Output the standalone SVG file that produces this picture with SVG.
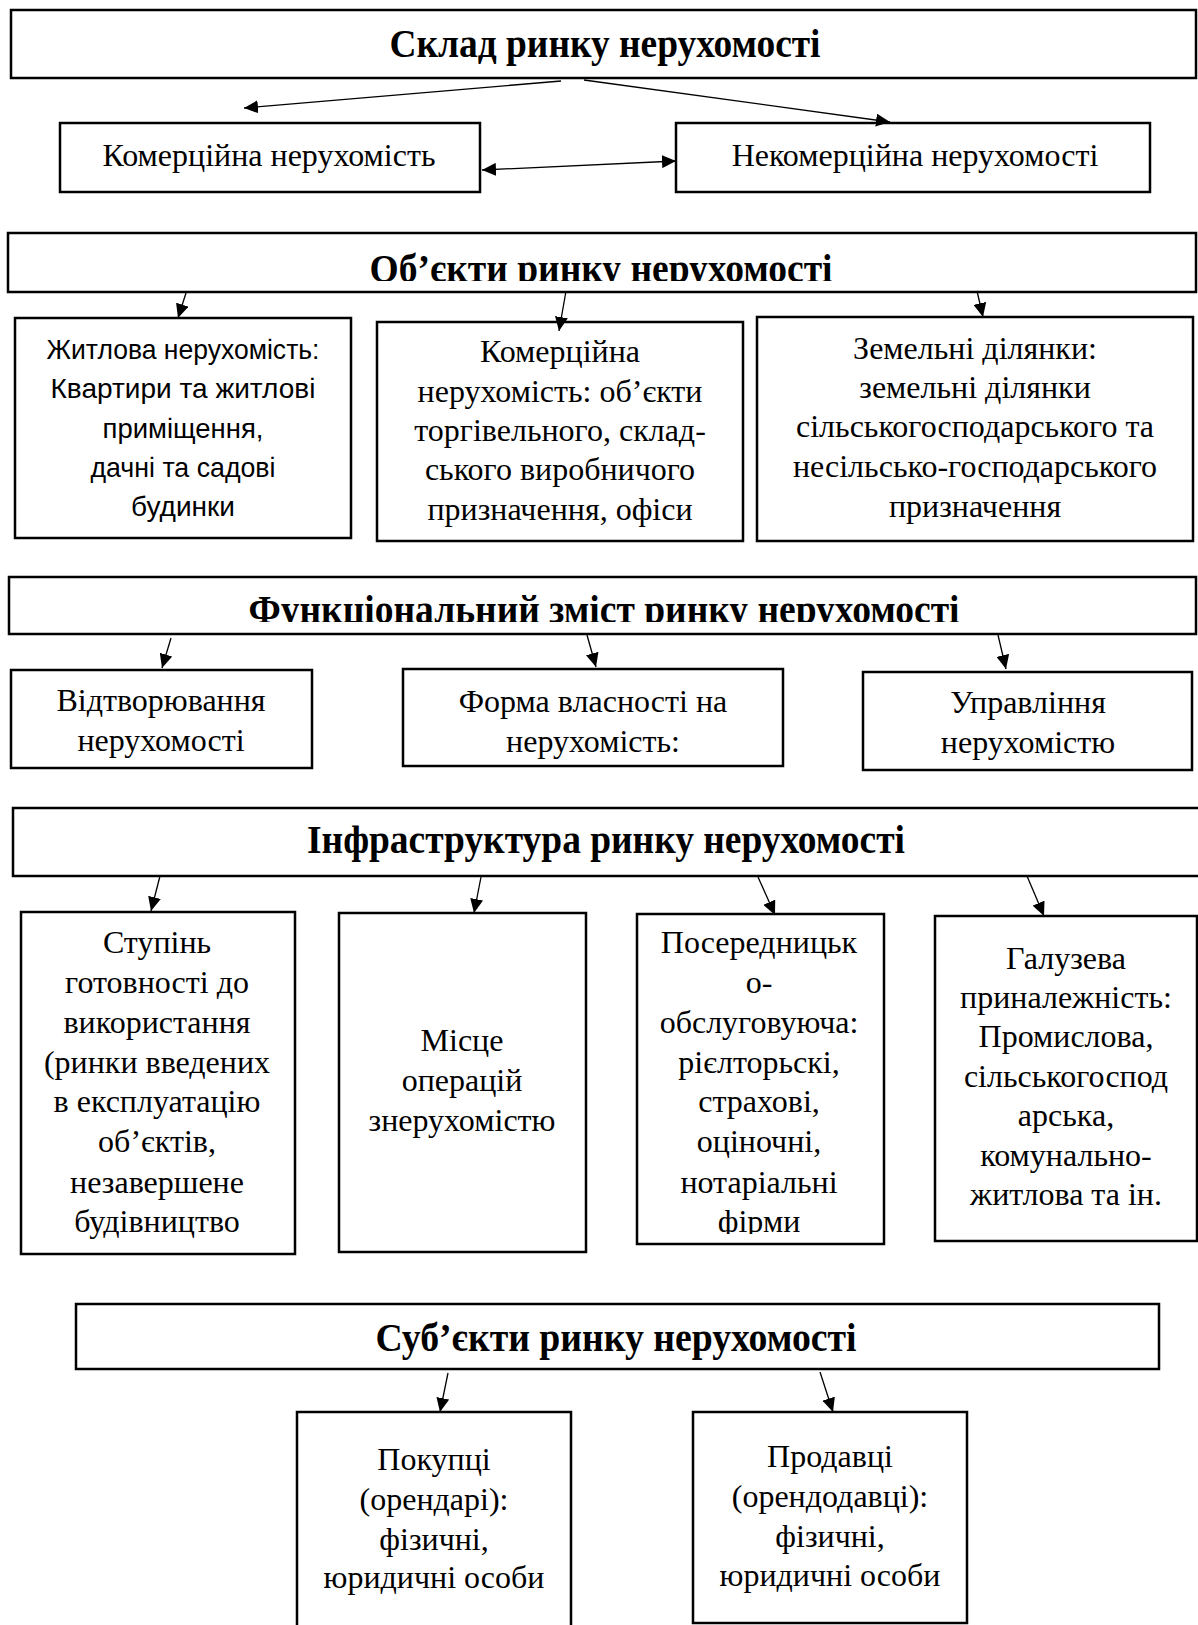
<svg xmlns="http://www.w3.org/2000/svg" width="1198" height="1625" viewBox="0 0 1198 1625">
<style>
.box{fill:#fff;stroke:#000;stroke-width:2.5}
.hd{font-family:"Liberation Serif","Times New Roman",serif;font-weight:bold;font-size:40px;text-anchor:middle;fill:#000}
.t{font-family:"Liberation Serif","Times New Roman",serif;font-size:32px;text-anchor:middle;fill:#000}
.s{font-family:"Liberation Sans",Arial,sans-serif;font-size:28px;text-anchor:middle;fill:#000}
.c{stroke:#000;stroke-width:1.3;fill:none;marker-end:url(#ah)}
</style>
<defs>
<marker id="ah" viewBox="0 0 14 13" refX="14" refY="6.5" markerWidth="14" markerHeight="13" markerUnits="userSpaceOnUse" orient="auto-start-reverse">
<path d="M0,0 L14,6.5 L0,13 Z" fill="#000"/>
</marker>
<clipPath id="cp2"><rect x="8" y="233" width="1188" height="48"/></clipPath>
<clipPath id="cp3"><rect x="9" y="577" width="1187" height="45"/></clipPath>
<clipPath id="cp4c"><rect x="637" y="914" width="247" height="320"/></clipPath>
</defs>

<g id="n-sklad"><rect class="box" x="11" y="10" width="1185" height="68"/><text class="hd" x="605" y="57" textLength="431" lengthAdjust="spacingAndGlyphs">Склад ринку нерухомості</text></g>
<g id="n-komer"><rect class="box" x="60" y="123" width="420" height="69"/><text class="t" x="269" y="166">Комерційна нерухомість</text></g>
<g id="n-nekomer"><rect class="box" x="676" y="123" width="474" height="69"/><text class="t" x="915" y="166">Некомерційна нерухомості</text></g>

<g id="n-obekty"><rect class="box" x="8" y="233" width="1188" height="59"/><text class="hd" x="601" y="282" textLength="463" lengthAdjust="spacingAndGlyphs" clip-path="url(#cp2)">Об’єкти ринку нерухомості</text></g>
<g id="n-zhytl"><rect class="box" x="15" y="318" width="336" height="220"/>
<text class="s"><tspan x="183" y="359" textLength="273" lengthAdjust="spacingAndGlyphs">Житлова нерухомість:</tspan><tspan x="183" y="398" textLength="265" lengthAdjust="spacingAndGlyphs">Квартири та житлові</tspan><tspan x="183" y="438" textLength="161" lengthAdjust="spacingAndGlyphs">приміщення,</tspan><tspan x="183" y="477" textLength="185" lengthAdjust="spacingAndGlyphs">дачні та садові</tspan><tspan x="183" y="516" textLength="104" lengthAdjust="spacingAndGlyphs">будинки</tspan></text></g>
<g id="n-komer2"><rect class="box" x="377" y="322" width="366" height="219"/>
<text class="t"><tspan x="560" y="362">Комерційна</tspan><tspan x="560" y="402">нерухомість: об’єкти</tspan><tspan x="560" y="441">торгівельного, склад-</tspan><tspan x="560" y="480">ського виробничого</tspan><tspan x="560" y="520">призначення, офіси</tspan></text></g>
<g id="n-zemel"><rect class="box" x="757" y="317" width="436" height="224"/>
<text class="t"><tspan x="975" y="359">Земельні ділянки:</tspan><tspan x="975" y="398">земельні ділянки</tspan><tspan x="975" y="437">сільськогосподарського та</tspan><tspan x="975" y="477">несільсько-господарського</tspan><tspan x="975" y="517">призначення</tspan></text></g>

<g id="n-funkc"><rect class="box" x="9" y="577" width="1187" height="57"/><text class="hd" x="604" y="623" textLength="711" lengthAdjust="spacingAndGlyphs" clip-path="url(#cp3)">Функціональний зміст ринку нерухомості</text></g>
<g id="n-vidtv"><rect class="box" x="11" y="670" width="301" height="98"/><text class="t"><tspan x="161" y="711">Відтворювання</tspan><tspan x="161" y="751">нерухомості</tspan></text></g>
<g id="n-forma"><rect class="box" x="403" y="669" width="380" height="97"/><text class="t"><tspan x="593" y="712">Форма власності на</tspan><tspan x="593" y="752">нерухомість:</tspan></text></g>
<g id="n-uprav"><rect class="box" x="863" y="672" width="329" height="98"/><text class="t"><tspan x="1028" y="713">Управління</tspan><tspan x="1028" y="753">нерухомістю</tspan></text></g>

<g id="n-infra"><rect class="box" x="13" y="808" width="1195" height="68"/><text class="hd" x="606" y="853" textLength="598" lengthAdjust="spacingAndGlyphs">Інфраструктура ринку нерухомості</text></g>
<g id="n-stup"><rect class="box" x="21" y="912" width="274" height="342"/>
<text class="t"><tspan x="157" y="953">Ступінь</tspan><tspan x="157" y="993">готовності до</tspan><tspan x="157" y="1033">використання</tspan><tspan x="157" y="1073">(ринки введених</tspan><tspan x="157" y="1112">в експлуатацію</tspan><tspan x="157" y="1152">об’єктів,</tspan><tspan x="157" y="1193">незавершене</tspan><tspan x="157" y="1232">будівництво</tspan></text></g>
<g id="n-misce"><rect class="box" x="339" y="913" width="247" height="339"/>
<text class="t"><tspan x="462" y="1051">Місце</tspan><tspan x="462" y="1091">операцій</tspan><tspan x="462" y="1131">знерухомістю</tspan></text></g>
<g id="n-poser"><rect class="box" x="637" y="914" width="247" height="330"/>
<text class="t" clip-path="url(#cp4c)"><tspan x="759" y="953">Посередницьк</tspan><tspan x="759" y="993">о-</tspan><tspan x="759" y="1033">обслуговуюча:</tspan><tspan x="759" y="1073">рієлторьскі,</tspan><tspan x="759" y="1112">страхові,</tspan><tspan x="759" y="1152">оціночні,</tspan><tspan x="759" y="1193">нотаріальні</tspan><tspan x="759" y="1232">фірми</tspan></text></g>
<g id="n-haluz"><rect class="box" x="935" y="916" width="262" height="325"/>
<text class="t"><tspan x="1066" y="969">Галузева</tspan><tspan x="1066" y="1008">приналежність:</tspan><tspan x="1066" y="1047">Промислова,</tspan><tspan x="1066" y="1087">сільськогоспод</tspan><tspan x="1066" y="1126">арська,</tspan><tspan x="1066" y="1166">комунально-</tspan><tspan x="1066" y="1205">житлова та ін.</tspan></text></g>

<g id="n-subj"><rect class="box" x="76" y="1304" width="1083" height="65"/><text class="hd" x="616" y="1351" textLength="481" lengthAdjust="spacingAndGlyphs">Суб’єкти ринку нерухомості</text></g>
<g id="n-pokup"><path class="box" d="M297,1630 V1412 H571 V1630"/>
<text class="t"><tspan x="434" y="1470">Покупці</tspan><tspan x="434" y="1510">(орендарі):</tspan><tspan x="434" y="1550">фізичні,</tspan><tspan x="434" y="1588">юридичні особи</tspan></text></g>
<g id="n-prod"><rect class="box" x="693" y="1412" width="274" height="211"/>
<text class="t"><tspan x="830" y="1467">Продавці</tspan><tspan x="830" y="1507">(орендодавці):</tspan><tspan x="830" y="1547">фізичні,</tspan><tspan x="830" y="1586">юридичні особи</tspan></text></g>

<g id="connectors">
<line class="c" x1="561" y1="81" x2="244" y2="108"/>
<line class="c" x1="584" y1="80" x2="890" y2="122"/>
<line class="c" x1="482" y1="170" x2="676" y2="161" style="marker-start:url(#ah)"/>
<line class="c" x1="186" y1="293" x2="178" y2="318"/>
<line class="c" x1="566" y1="291" x2="559" y2="331"/>
<line class="c" x1="977" y1="291" x2="983" y2="317"/>
<line class="c" x1="171" y1="638" x2="162" y2="668"/>
<line class="c" x1="587" y1="635" x2="596" y2="667"/>
<line class="c" x1="998" y1="635" x2="1006" y2="669"/>
<line class="c" x1="160" y1="876" x2="151" y2="911"/>
<line class="c" x1="481" y1="877" x2="474" y2="913"/>
<line class="c" x1="758" y1="877" x2="775" y2="915"/>
<line class="c" x1="1027" y1="876" x2="1044" y2="916"/>
<line class="c" x1="448" y1="1373" x2="440" y2="1412"/>
<line class="c" x1="820" y1="1372" x2="833" y2="1412"/>
</g>
</svg>
